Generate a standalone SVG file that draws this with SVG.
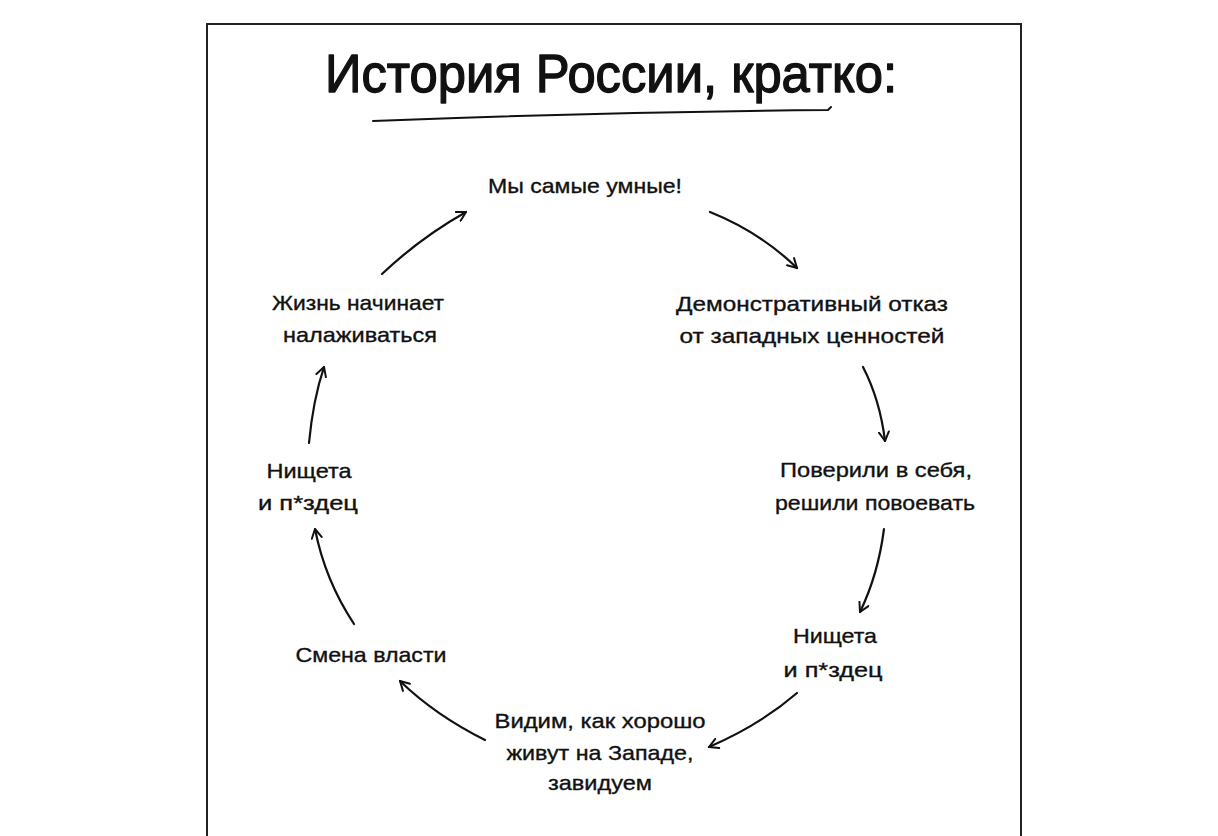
<svg xmlns="http://www.w3.org/2000/svg" width="1218" height="836" viewBox="0 0 1218 836">
<style>
.t{font-family:"Liberation Sans","DejaVu Sans",sans-serif;font-size:21px;fill:#111;stroke:#111;stroke-width:0.35;text-anchor:middle}
.ttl{font-family:"Liberation Sans","DejaVu Sans",sans-serif;font-size:54px;fill:#111;stroke:#111;stroke-width:1.4;stroke-linejoin:round;text-anchor:middle}
.c{fill:none;stroke:#111;stroke-width:2.2;stroke-linecap:round}
</style>
<defs>
<marker id="ah" viewBox="0 0 12 12" refX="10" refY="6" markerWidth="12" markerHeight="12" markerUnits="userSpaceOnUse" orient="auto">
<path d="M1,1 L10,6 L1,11" fill="none" stroke="#111" stroke-width="2" stroke-linecap="round" stroke-linejoin="round"/>
</marker>
</defs>
<rect width="1218" height="836" fill="#fff"/>
<path d="M207,840 V24 H1021 V840" fill="none" stroke="#222" stroke-width="2"/>
<g id="title">
<text class="ttl" x="611" y="92" textLength="572" lengthAdjust="spacingAndGlyphs">История России, кратко:</text>
<path d="M373,121 Q600,112 828,110 L831,107" fill="none" stroke="#111" stroke-width="2" stroke-linecap="round"/>
</g>
<g id="n1"><text class="t" x="585" y="193" textLength="194" lengthAdjust="spacingAndGlyphs">Мы самые умные!</text></g>
<g id="n2"><text class="t" x="812" y="311" textLength="272" lengthAdjust="spacingAndGlyphs">Демонстративный отказ</text><text class="t" x="812" y="343" textLength="265" lengthAdjust="spacingAndGlyphs">от западных ценностей</text></g>
<g id="n3"><text class="t" x="876" y="477" textLength="192" lengthAdjust="spacingAndGlyphs">Поверили в себя,</text><text class="t" x="875" y="510" textLength="200" lengthAdjust="spacingAndGlyphs">решили повоевать</text></g>
<g id="n4"><text class="t" x="835" y="643" textLength="84" lengthAdjust="spacingAndGlyphs">Нищета</text><text class="t" x="833" y="677" textLength="99" lengthAdjust="spacingAndGlyphs">и п*здец</text></g>
<g id="n5"><text class="t" x="600" y="728" textLength="211" lengthAdjust="spacingAndGlyphs">Видим, как хорошо</text><text class="t" x="600" y="760" textLength="187" lengthAdjust="spacingAndGlyphs">живут на Западе,</text><text class="t" x="600" y="790" textLength="104" lengthAdjust="spacingAndGlyphs">завидуем</text></g>
<g id="n6"><text class="t" x="371" y="662" textLength="151" lengthAdjust="spacingAndGlyphs">Смена власти</text></g>
<g id="n7"><text class="t" x="309" y="478" textLength="85" lengthAdjust="spacingAndGlyphs">Нищета</text><text class="t" x="308" y="510" textLength="100" lengthAdjust="spacingAndGlyphs">и п*здец</text></g>
<g id="n8"><text class="t" x="358" y="310" textLength="172" lengthAdjust="spacingAndGlyphs">Жизнь начинает</text><text class="t" x="360" y="342" textLength="154" lengthAdjust="spacingAndGlyphs">налаживаться</text></g>
<g id="connectors">
<path class="c" marker-end="url(#ah)" d="M382,274 Q420,238 466,212"/>
<path class="c" marker-end="url(#ah)" d="M710,212 Q760,232 797,268"/>
<path class="c" marker-end="url(#ah)" d="M863,367 Q880,400 885,441"/>
<path class="c" marker-end="url(#ah)" d="M884,529 Q878,575 860,612"/>
<path class="c" marker-end="url(#ah)" d="M797,693 Q760,725 709,747"/>
<path class="c" marker-end="url(#ah)" d="M485,740 Q435,715 400,681"/>
<path class="c" marker-end="url(#ah)" d="M354,624 Q325,580 315,529"/>
<path class="c" marker-end="url(#ah)" d="M309,443 Q313,400 324,367"/>
</g>
</svg>
